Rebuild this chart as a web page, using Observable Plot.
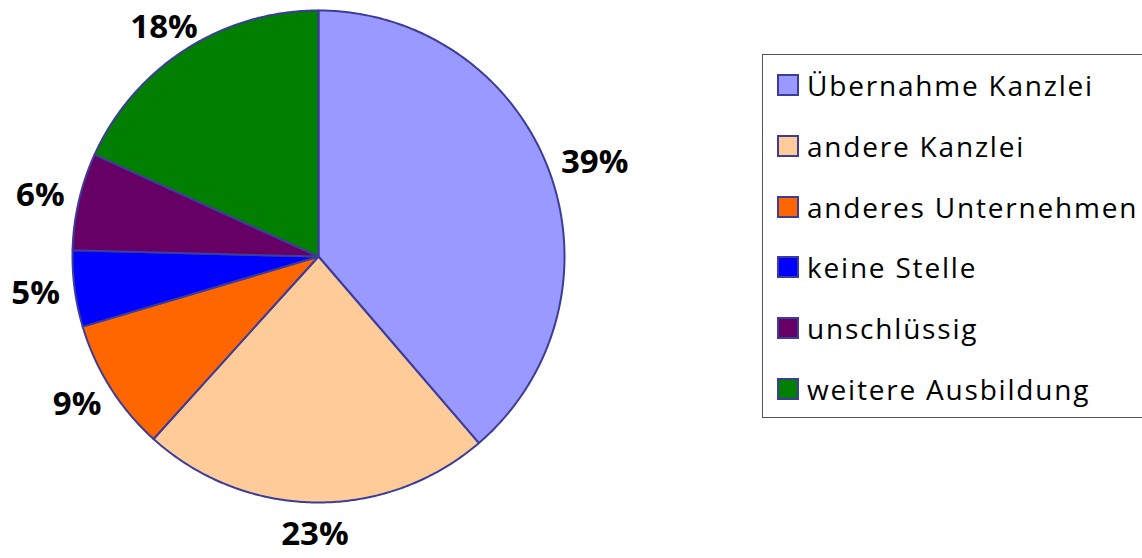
<!DOCTYPE html>
<html>
<head>
<meta charset="utf-8">
<script src="https://cdn.jsdelivr.net/npm/d3@7"></script>
<script src="https://cdn.jsdelivr.net/npm/@observablehq/plot@0.6"></script>
<style>
  html, body { margin: 0; padding: 0; background: #fff; }
  #wrap { position: relative; width: 1142px; height: 558px; overflow: hidden; font-family: "Open Sans", sans-serif; }
  #legend { position: absolute; left: 762px; top: 54px; width: 420px; height: 364px; border: 1.5px solid #555; box-sizing: border-box; }
  .row { position: absolute; left: 14px; display: flex; align-items: center; font-size: 28px; letter-spacing: 1.8px; color: #000; white-space: nowrap; }
  .sw { width: 18px; height: 18px; border: 2px solid #3c3c9a; margin-right: 8px; flex: none; }
</style>
</head>
<body>
<div id="wrap"></div>
<script>
const categories = ["Übernahme Kanzlei", "andere Kanzlei", "anderes Unternehmen", "keine Stelle", "unschlüssig", "weitere Ausbildung"];
const shares = [38.7, 23.0, 8.7, 5.0, 6.4, 18.2];
const colors = ["#9999FF", "#FFCC99", "#FF6600", "#0000FF", "#660066", "#007F00"];
const labels = ["39%", "23%", "9%", "5%", "6%", "18%"];

const pie = d3.pie().sort(null).value(d => d)(shares);
const slicePts = [];
pie.forEach((p, i) => {
  const n = Math.max(2, Math.ceil((p.endAngle - p.startAngle) / 0.01));
  slicePts.push({k: categories[i], x: 0, y: 0});
  for (let j = 0; j <= n; j++) {
    const a = p.startAngle + (p.endAngle - p.startAngle) * j / n;
    slicePts.push({k: categories[i], x: Math.sin(a), y: Math.cos(a)});
  }
  slicePts.push({k: categories[i], x: 0, y: 0});
});
const labelPts = pie.map((p, i) => {
  const a = (p.startAngle + p.endAngle) / 2;
  const rx = 1.16 + 0.04 * Math.max(0, Math.sin(a));
  const ry = Math.cos(a) > 0 ? 1.105 : 1.13;
  return {t: labels[i], x: rx * Math.sin(a), y: ry * Math.cos(a)};
});

const chart = Plot.plot({
  width: 1142, height: 558,
  marginTop: 0, marginBottom: 0, marginLeft: 0, marginRight: 0,
  x: {domain: [-1, 1], range: [72, 564], axis: null},
  y: {domain: [-1, 1], range: [502, 10], axis: null},
  color: {domain: categories, range: colors},
  style: {fontFamily: "Open Sans, sans-serif", background: "white"},
  marks: [
    Plot.line(slicePts, {x: "x", y: "y", z: "k", fill: "k", stroke: "#3c3c9a", strokeWidth: 2, strokeLinejoin: "round"}),
    Plot.text(labelPts, {x: "x", y: "y", text: "t", fontSize: 33, fontWeight: "bold", fill: "black"})
  ]
});
const wrap = document.getElementById("wrap");
wrap.appendChild(chart);

const legend = document.createElement("div");
legend.id = "legend";
const rowTops = [84, 145, 206, 266, 327, 388];
categories.forEach((c, i) => {
  const r = document.createElement("div");
  r.className = "row";
  r.style.top = (rowTops[i] - 54 - 22) + "px";
  r.style.height = "44px";
  const s = document.createElement("div");
  s.className = "sw";
  s.style.background = colors[i];
  const t = document.createElement("span");
  t.textContent = c;
  r.appendChild(s); r.appendChild(t);
  legend.appendChild(r);
});
wrap.appendChild(legend);
</script>
</body>
</html>
